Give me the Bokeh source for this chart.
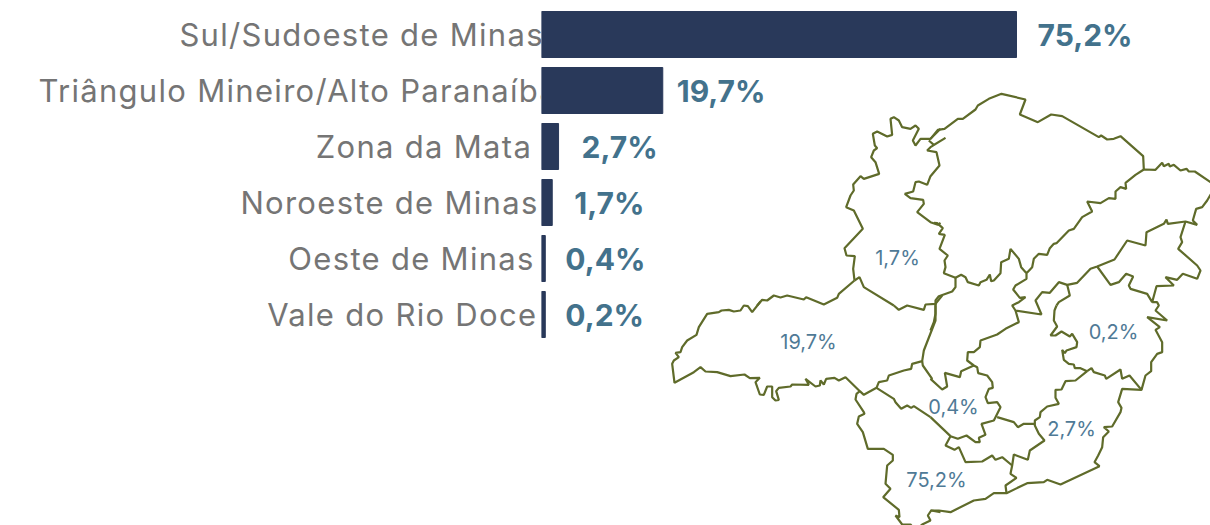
from bokeh.plotting import figure
from bokeh.layouts import row
from bokeh.models import Range1d, ColumnDataSource, FixedTicker
from bokeh.core.properties import value
from bokeh.embed import file_html
from bokeh.resources import INLINE

categories = ["Sul/Sudoeste de Minas", "Triângulo Mineiro/Alto Paranaíba", "Zona da Mata",
              "Noroeste de Minas", "Oeste de Minas", "Vale do Rio Doce"]
bar_values = [75.2, 19.2, 2.7, 1.7, 0.6, 0.6]
value_labels = ["75,2%", "19,7%", "2,7%", "1,7%", "0,4%", "0,2%"]
label_gap = [21, 14, 23, 22, 20, 20]

map_labels = ["75,2%", "19,7%", "2,7%", "1,7%", "0,4%", "0,2%"]
map_label_x = [936, 808, 1071, 897, 953, 1113]
map_label_y = [479, 341, 428, 257, 406, 331]

borders = [
 (660, 85, [(840,130),(810,160),(780,160),(765,180),(757,165),(775,130),(765,120),(750,130),(725,125),(715,105),(700,95),(690,100),(695,148),(680,153),(650,138),(637,145),(643,180),(650,188),(640,195),(632,215),(645,230),(656,265),(610,280),(600,272),(578,297),(580,315),(570,330),(557,365),(580,375),(607,430),(552,488),(558,510),(583,512),(578,550),(582,585)]),
 (660, 85, [(582,585),(597,575),(610,605),(700,660)]),
 (660, 85, [(582,585),(535,625),(530,637),(490,657),(437,635),(430,642),(380,630),(360,636),(340,630),(320,645),(305,643),(290,660)]),
 (660, 85, [(805,165),(820,178),(855,157),(810,185),(800,195),(828,200),(837,240),(810,272),(800,298),(775,288),(765,290),(758,318),(733,325),(750,338),(788,343),(790,355),(770,380),(810,410),(832,418),(840,412)]),
 (930, 85, [(0,160),(22,133),(42,130),(82,100),(97,100),(135,72),(142,60),(175,40),(213,25),(285,42),(268,87),(322,110),(362,87),(395,92),(505,155),(512,150),(530,162),(550,160),(570,152),(638,212),(640,252)]),
 (930, 85, [(10,412),(20,413),(37,428),(25,445),(43,448),(27,490),(52,510),(42,525),(45,545),(40,563),(75,577),(92,568),(105,575),(112,590),(145,600),(150,590),(168,583),(178,567),(182,587),(190,585),(210,563),(212,530),(235,520),(240,490),(265,520),(272,545),(288,563),(305,545),(310,520),(325,505),(350,508),(358,488),(370,475),(378,473),(415,435),(430,430),(455,395),(485,378),(470,348),(510,353),(535,338),(555,340),(555,318),(570,305),(587,310),(585,292),(615,268),(640,252),(675,253),(695,232),(700,242),(715,235),(718,243),(730,238),(750,255),(768,250),(775,258),(793,258),(840,290),(860,305),(840,328),(830,345),(815,365),(797,370),(787,405),(800,418),(765,408),(712,415),(708,402),(700,415),(648,440),(645,480),(590,465),(552,522),(500,543),(480,550),(440,592),(410,598),(385,590),(358,622),(335,620),(315,645),(333,687),(255,675),(245,660),(265,650),(285,635),(268,637),(248,612),(255,600),(288,580),(288,563)]),
 (930, 85, [(765,408),(750,455),(755,470),(743,490),(800,540),(810,555),(800,580),(757,565),(740,583),(705,575),(730,600),(678,602),(665,650),(650,625),(600,610),(595,600),(608,573),(587,565),(565,590),(540,598),(500,543)]),
 (930, 85, [(410,598),(418,630),(385,650),(378,660)]),
 (930, 85, [(75,577),(75,605),(65,618),(25,632),(15,645),(15,660)]),
 (930, 300, [(15,15),(15,40),(10,65),(0,90)]),
 (930, 300, [(255,30),(265,65),(225,85),(200,102),(150,120),(148,140),(130,155),(112,155),(110,180),(130,195),(140,200),(143,218),(170,225),(185,245),(187,262),(175,265),(165,290),(172,308),(200,305),(210,320),(195,350),(190,360),(153,370),(165,403),(145,412),(148,425),(135,425),(108,405),(82,415),(60,407),(45,435),(72,448),(85,440),(105,485),(155,483),(185,465),(195,478),(215,470),(245,495)]),
 (930, 300, [(378,15),(372,30),(370,60),(380,78),(360,105),(375,105),(393,93),(418,108),(425,100),(440,125),(438,140),(408,150),(403,158),(395,148),(400,178),(415,190),(430,192),(433,203),(450,203),(470,212),(435,240),(405,242),(393,267),(375,268),(375,292),(385,310),(350,318),(330,335),(328,350),(313,360),(313,375),(325,400),(342,420),(298,450),(292,478),(250,462),(245,495),(240,520),(258,532),(225,555),(228,578)]),
 (930, 300, [(313,370),(280,370),(262,380),(250,365),(200,350)]),
 (930, 300, [(470,212),(483,203),(490,215),(523,225),(527,235),(570,207),(575,235),(597,225),(633,268)]),
 (930, 300, [(665,5),(680,5),(685,15),(675,30),(710,60),(650,50),(688,80),(675,88),(695,125),(695,155),(680,160),(662,185),(662,212),(645,225),(633,268),(575,265),(563,305),(573,322),(570,335),(545,378),(520,380),(535,393),(518,410),(515,440),(503,465),(492,485),(507,497),(390,552),(350,538),(340,545),(290,548),(228,578),(190,578),(165,595),(130,600),(60,635),(25,630),(0,630)]),
 (930, 300, [(0,235),(35,267),(50,258),(43,217),(88,230),(92,212),(130,195)]),
 (930, 300, [(0,350),(60,407)]),
 (660, 300, [(300,3),(275,35),(262,17),(250,15),(240,30),(220,33),(205,28),(183,30),(175,35),(140,40),(115,80),(108,103),(80,120),(65,140),(60,155),(45,157),(55,170),(40,180),(35,190),(42,247),(100,215),(120,200),(135,213),(170,215),(210,227),(252,222),(268,233),(298,232),(285,245),(298,282),(310,283),(320,258),(335,258),(335,290),(345,300),(355,298),(347,272),(355,262),(390,258),(395,252),(445,253),(435,235),(465,258),(478,255),(480,240),(490,252),(497,235),(522,232),(535,240),(555,230),(598,272),(610,283),(648,262),(655,245),(680,240),(685,225),(730,210),(752,205),(755,190),(785,182),(790,150),(825,60),(825,10)]),
 (660, 300, [(700,15),(715,28),(740,15),(790,28),(795,12),(825,10),(845,-15)]),
 (660, 300, [(785,182),(787,195),(815,235),(810,235)]),
 (660, 300, [(648,262),(700,295),(705,305),(722,325),(740,315),(752,322),(760,317),(810,350)]),
 (660, 300, [(598,272),(588,280),(585,297),(610,335),(612,340),(595,348),(590,370),(607,395),(622,445),(670,445),(697,463),(697,480),(680,495),(675,550),(690,565),(668,590),(715,628),(717,650),(705,645),(725,672),(750,672),(765,690),(785,672),(810,660),(802,645),(812,630),(840,635)]),
]
map_xs = [[ox + a / 3 for a, b in pts] for ox, oy, pts in borders]
map_ys = [[oy + b / 3 for a, b in pts] for ox, oy, pts in borders]

LEFT = 541
W, H = 1210, 525
yr = ((H - 34) / 56, -34 / 56)

# Left panel: only the category axis, with letter spacing inherited by its SVG text
left = figure(width=LEFT, height=H, output_backend="svg", toolbar_location=None,
              x_range=Range1d(0, 1), y_range=Range1d(*yr), x_axis_location=None,
              min_border_left=LEFT - 1, min_border_right=0, min_border_top=0, min_border_bottom=0,
              outline_line_color=None)
left.xgrid.visible = False
left.ygrid.visible = False
left.styles = {"letter-spacing": "1.3px"}
left.yaxis.ticker = FixedTicker(ticks=list(range(6)))
left.yaxis.major_label_overrides = {i: c for i, c in enumerate(categories)}
left.yaxis.major_label_text_font = "Inter"
left.yaxis.major_label_text_font_size = "31px"
left.yaxis.major_label_text_color = "#757575"
left.yaxis.major_label_standoff = 18
left.yaxis.major_tick_line_color = None
left.yaxis.minor_tick_line_color = None
left.yaxis.axis_line_color = None

p = figure(width=W - LEFT, height=H, output_backend="svg", toolbar_location=None,
           x_range=Range1d(0, (W - LEFT) / (475 / 75.2)), y_range=Range1d(*yr),
           x_axis_location=None, y_axis_location=None,
           min_border_left=0, min_border_right=0, min_border_top=0, min_border_bottom=0,
           outline_line_color=None)
p.xgrid.visible = False
p.ygrid.visible = False

ys = list(range(6))
src = ColumnDataSource(dict(y=ys, v=bar_values, t=value_labels, gap=label_gap))
p.hbar(y="y", left=0, right="v", height=46 / 56, color="#29395a", source=src)
p.text(x="v", y="y", text="t", x_offset="gap", text_align="left", text_baseline="middle",
       text_font=value("Inter"), text_font_style="bold", text_font_size="30px", text_color="#43728c", source=src)

p.extra_x_ranges["map_x"] = Range1d(LEFT, W)
p.extra_y_ranges["map_y"] = Range1d(H, 0)
p.multi_line(xs=map_xs, ys=map_ys, line_color="#5f6b2a", line_width=2.2, x_range_name="map_x", y_range_name="map_y")
p.text(x=map_label_x, y=map_label_y, text=map_labels, text_align="center", text_baseline="middle",
       text_font=value("Inter"), text_font_size="20px", text_color="#4f7a96", x_range_name="map_x", y_range_name="map_y")

page = row(left, p, spacing=0)
open("out.html", "w").write(file_html(page, INLINE))
